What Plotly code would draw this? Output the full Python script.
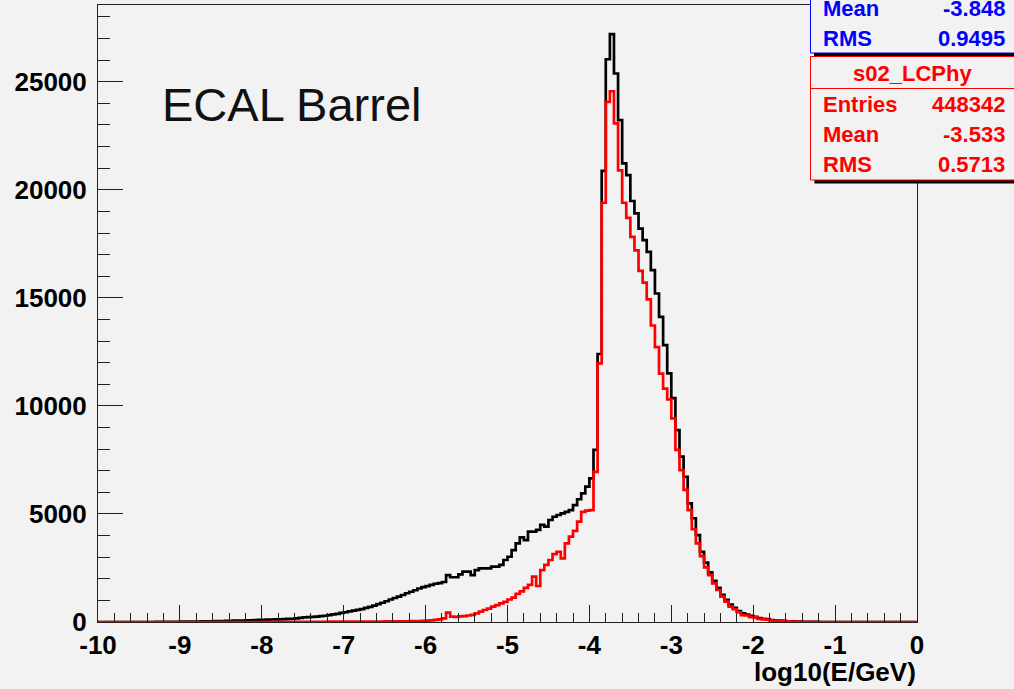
import numpy as np
import plotly.graph_objects as go

# Binning: 200 bins of 0.05 in log10(E/GeV) from -10 to 0
x_lo, x_hi, n_bins = -10.0, 0.0, 200

# Counts per bin, all hits (black)
h_total = [
    0, 0, 0, 0, 0, 0, 0, 0, 0, 0,
    0, 0, 0, 0, 2, 4, 6, 8, 10, 12,
    14, 16, 18, 20, 22, 25, 28, 32, 36, 40,
    45, 50, 55, 60, 65, 70, 75, 80, 90, 100,
    105, 110, 115, 120, 125, 130, 140, 150, 170, 190,
    210, 230, 240, 250, 270, 290, 320, 350, 380, 420,
    450, 490, 530, 560, 600, 650, 700, 760, 830, 890,
    960, 1040, 1110, 1170, 1250, 1330, 1400, 1470, 1550, 1610,
    1660, 1720, 1770, 1800, 1850, 2170, 2070, 2070, 2200, 2330,
    2330, 2170, 2400, 2480, 2480, 2480, 2560, 2560, 2640, 2870,
    3020, 3330, 3640, 3920, 3790, 4180, 4180, 4260, 4490, 4410,
    4720, 4870, 4950, 5030, 5100, 5180, 5410, 5680, 5950, 6260,
    6650, 7960, 12400, 20870, 26040, 27200, 25380, 23220, 21220, 20680,
    19480, 18910, 18200, 17670, 17130, 16280, 15200, 14120, 12810, 11500,
    10360, 8880, 7650, 6720, 5490, 4800, 4020, 3250, 2750, 2300,
    1900, 1580, 1260, 1020, 800, 650, 500, 400, 340, 280,
    240, 180, 150, 130, 90, 75, 60, 50, 35, 28,
    20, 15, 10, 7, 4, 2, 0, 0, 0, 0,
    0, 0, 0, 0, 0, 0, 0, 0, 0, 0,
    0, 0, 0, 0, 0, 0, 0, 0, 0, 0,
]

# Counts per bin, s02_LCPhy (red)
h_lcphy = [
    0, 0, 0, 0, 0, 0, 0, 0, 0, 0,
    0, 0, 0, 0, 0, 0, 0, 0, 0, 0,
    0, 0, 0, 0, 0, 0, 0, 0, 0, 0,
    0, 0, 0, 0, 0, 0, 0, 0, 0, 0,
    2, 2, 3, 3, 4, 4, 5, 5, 6, 6,
    7, 8, 9, 10, 11, 12, 13, 14, 15, 17,
    15, 16, 17, 18, 19, 20, 21, 22, 23, 24,
    25, 27, 29, 31, 33, 35, 38, 42, 46, 50,
    60, 75, 95, 120, 170, 430, 250, 240, 260, 270,
    300, 330, 400, 480, 555, 620, 710, 780, 860, 930,
    1040, 1130, 1300, 1420, 1580, 1720, 2100, 1665, 2400, 2640,
    2870, 3145, 3250, 2945, 3640, 3950, 4220, 4640, 5100, 5150,
    5180, 6950, 11970, 19400, 24070, 24560, 23070, 20900, 19400, 18700,
    17820, 17200, 16250, 15700, 14930, 13720, 12720, 11490, 10800, 10300,
    9420, 7960, 7030, 6110, 5180, 4300, 3640, 3050, 2530, 2170,
    1790, 1480, 1170, 940, 710, 590, 450, 320, 300, 230,
    210, 140, 125, 110, 70, 60, 50, 45, 25, 20,
    15, 12, 8, 5, 3, 2, 0, 0, 0, 0,
    0, 0, 0, 0, 0, 0, 0, 0, 0, 0,
    0, 0, 0, 0, 0, 0, 0, 0, 0, 0,
]

stats_total = {"Mean": "-3.848", "RMS": "0.9495"}
stats_lcphy = {"title": "s02_LCPhy", "Entries": "448342", "Mean": "-3.533", "RMS": "0.5713"}

x_ticks = list(range(-10, 1))
x_tick_text = [str(v) for v in x_ticks]
y_ticks = [0, 5000, 10000, 15000, 20000, 25000]
y_tick_text = [str(v) for v in y_ticks]
y_max = 28550

edges = np.linspace(x_lo, x_hi, n_bins + 1)

BG = "#f2f2f2"
W, H = 1014, 689
L, R, T, B = 98, 917, 5, 622  # plot frame in pixels


def px(xp):
    return (xp - L) / (R - L)


def py(yp):
    return (B - yp) / (B - T)


def step(counts):
    return edges, list(counts) + [counts[-1]]


fig = go.Figure()
for counts, color in ((h_total, "black"), (h_lcphy, "#ff0000")):
    xs, ys = step(counts)
    fig.add_trace(go.Scatter(x=xs, y=ys, mode="lines", line=dict(color=color, width=2.7, shape="hv"),
                             hoverinfo="skip", showlegend=False))

tick_font = dict(family="Liberation Sans, Arial", size=26, color="black", weight="bold")

fig.update_layout(
    width=W, height=H,
    margin=dict(l=L, r=W - R, t=T, b=H - B, pad=0),
    paper_bgcolor=BG, plot_bgcolor=BG,
    xaxis=dict(range=[x_lo, x_hi], tickmode="array", tickvals=x_ticks, ticktext=x_tick_text,
               ticks="inside", ticklen=17, tickwidth=1, tickcolor="#222",
               minor=dict(ticks="inside", dtick=0.2, ticklen=9, tickwidth=1, tickcolor="#222"),
               showline=True, linecolor="#222", linewidth=1, mirror=True,
               showgrid=False, zeroline=False, tickfont=tick_font, ticklabelstandoff=0),
    yaxis=dict(range=[0, y_max], tickmode="array", tickvals=y_ticks, ticktext=y_tick_text,
               ticks="inside", ticklen=25, tickwidth=1, tickcolor="#222",
               minor=dict(ticks="inside", dtick=1000, ticklen=12, tickwidth=1, tickcolor="#222"),
               showline=True, linecolor="#222", linewidth=1, mirror=True,
               showgrid=False, zeroline=False, tickfont=tick_font, ticklabelstandoff=5),
)

annotations = [
    dict(text="ECAL Barrel", x=px(160), y=py(104), xanchor="left", yanchor="middle",
         font=dict(family="Liberation Sans, Arial", size=47, color="#111")),
    dict(text="log10(E/GeV)", x=px(918), y=py(672), xanchor="right", yanchor="middle",
         font=dict(family="Liberation Sans, Arial", size=26, color="black", weight="bold")),
]

shapes = []

# stats box of the black histogram (partly above the canvas)
shapes.append(dict(type="rect", xref="paper", yref="paper", x0=px(814), x1=px(1030), y0=py(56), y1=py(-40),
                   fillcolor="black", line=dict(width=0), layer="above"))
shapes.append(dict(type="rect", xref="paper", yref="paper", x0=px(810.5), x1=px(1030), y0=py(53), y1=py(-40),
                   fillcolor=BG, line=dict(color="#0000ff", width=1), layer="above"))

# stats box of s02_LCPhy
shapes.append(dict(type="rect", xref="paper", yref="paper", x0=px(814.5), x1=px(1030), y0=py(183.5), y1=py(60),
                   fillcolor="black", line=dict(width=0), layer="above"))
shapes.append(dict(type="rect", xref="paper", yref="paper", x0=px(810.5), x1=px(1030), y0=py(180), y1=py(56.5),
                   fillcolor=BG, line=dict(color="#ff0000", width=1), layer="above"))
shapes.append(dict(type="line", xref="paper", yref="paper", x0=px(810.5), x1=px(1030), y0=py(88.5), y1=py(88.5),
                   line=dict(color="#ff0000", width=1), layer="above"))

stat_font = dict(family="Liberation Sans, Arial", size=22, weight="bold")


def stat_row(label, value, ypix, color):
    f = dict(stat_font, color=color)
    return [
        dict(text=label, x=px(821), y=py(ypix), xanchor="left", yanchor="middle", font=f),
        dict(text=value, x=px(1007), y=py(ypix), xanchor="right", yanchor="middle", font=f),
    ]


annotations += stat_row("Mean", stats_total["Mean"], 9, "#0000ff")
annotations += stat_row("RMS", stats_total["RMS"], 38, "#0000ff")
annotations.append(dict(text=stats_lcphy["title"], x=px(912), y=py(73), xanchor="center", yanchor="middle",
                        font=dict(stat_font, color="#ff0000")))
annotations += stat_row("Entries", stats_lcphy["Entries"], 104, "#ff0000")
annotations += stat_row("Mean", stats_lcphy["Mean"], 134, "#ff0000")
annotations += stat_row("RMS", stats_lcphy["RMS"], 164, "#ff0000")

for a in annotations:
    a.update(xref="paper", yref="paper", showarrow=False)

fig.update_layout(shapes=shapes, annotations=annotations)

fig.write_html("out.html")
